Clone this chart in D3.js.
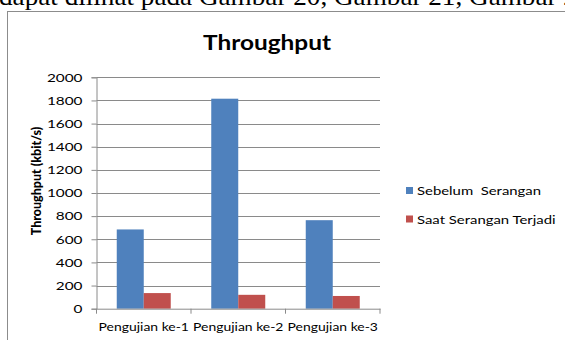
<!DOCTYPE html>
<html lang="en"><head>
<meta charset="utf-8">
<title>Throughput</title>
<script src="https://cdn.jsdelivr.net/npm/d3@7"></script>
<style>
body { margin: 0; background: #fff; }
svg text { font-family: Lato, "Open Sans", sans-serif; }
</style>
</head>
<body>
<script type="text/javascript">

var categories = ["Pengujian ke-1", "Pengujian ke-2", "Pengujian ke-3"];
var seriesNames = ["Sebelum  Serangan", "Saat Serangan Terjadi"];
var sebelum = [685, 1815, 765];
var saat = [135, 120, 110];
var yTicks = [0, 200, 400, 600, 800, 1000, 1200, 1400, 1600, 1800, 2000];
var colors = ["#4f81bd", "#c0504d"];

var width = 565, height = 340;
var plotLeft = 96.5, plotRight = 380, plotTop = 77.3, plotBottom = 308.7;

var svg = d3.select("body").append("svg")
    .attr("width", width)
    .attr("height", height);

// the picture is a bit wider than tall, so text is widened to fit
function stretch(sel, f) {
    sel.each(function() {
        var w = this.getComputedTextLength();
        d3.select(this).attr("textLength", w * f).attr("lengthAdjust", "spacingAndGlyphs");
    });
}

// piece of the document text above the chart
svg.append("text")
    .attr("x", -1)
    .attr("y", 5)
    .style("font-family", "'Liberation Serif', serif")
    .style("font-size", "26px")
    .attr("fill", "#000")
    .text("dapat dilihat pada Gambar 20, Gambar 21, Gambar 22")
    .call(stretch, 1.045);

// chart frame
svg.append("rect")
    .attr("x", 7.5).attr("y", 11.5)
    .attr("width", 600).attr("height", 400)
    .attr("fill", "none")
    .attr("stroke", "#8c8c8c");

var x = d3.scaleBand().domain(categories).range([plotLeft, plotRight]);
var inner = d3.scaleBand().domain([0, 1]).range([0, x.bandwidth()])
    .paddingOuter(0.75).paddingInner(0);
var y = d3.scaleLinear().domain([0, 2000]).range([plotBottom, plotTop]);

// gridlines
svg.append("g").selectAll("line")
    .data(yTicks.slice(1))
    .enter().append("line")
    .attr("x1", plotLeft).attr("x2", plotRight)
    .attr("y1", d => Math.round(y(d)) + 0.5).attr("y2", d => Math.round(y(d)) + 0.5)
    .attr("stroke", "#8a8a8a");

// y axis
var yAxis = svg.append("g")
    .attr("transform", "translate(" + plotLeft + ",0)")
    .call(d3.axisLeft(y).tickValues(yTicks).tickFormat(d3.format("d")).tickSize(5).tickPadding(9));
yAxis.select(".domain").attr("stroke", "#8a8a8a");
yAxis.selectAll(".tick line").attr("stroke", "#8a8a8a");
yAxis.selectAll(".tick text")
    .style("font-size", "12px")
    .attr("fill", "#000")
    .call(stretch, 1.28);

// bars
var groups = svg.append("g").selectAll("g")
    .data(categories)
    .enter().append("g")
    .attr("transform", d => "translate(" + x(d) + ",0)");

groups.selectAll("rect")
    .data((d, i) => [sebelum[i], saat[i]])
    .enter().append("rect")
    .attr("x", (d, j) => inner(j))
    .attr("width", inner.bandwidth())
    .attr("y", d => y(d))
    .attr("height", d => y(0) - y(d))
    .attr("fill", (d, j) => colors[j]);

// x axis
var xAxis = svg.append("g")
    .attr("transform", "translate(0," + plotBottom + ")")
    .call(d3.axisBottom(x).tickSize(0).tickPadding(14));
xAxis.select(".domain").attr("stroke", "#8a8a8a");
xAxis.selectAll(".tick text")
    .style("font-size", "12px")
    .attr("fill", "#000")
    .call(stretch, 1.16);

svg.append("g").selectAll("line")
    .data(d3.range(categories.length + 1))
    .enter().append("line")
    .attr("x1", i => plotLeft + i * x.bandwidth()).attr("x2", i => plotLeft + i * x.bandwidth())
    .attr("y1", plotBottom).attr("y2", plotBottom + 5)
    .attr("stroke", "#8a8a8a");

// title
svg.append("text")
    .attr("x", 267).attr("y", 50)
    .attr("text-anchor", "middle")
    .style("font-size", "20px")
    .style("font-weight", "bold")
    .text("Throughput")
    .call(stretch, 1.22);

// y axis title
svg.append("text")
    .attr("transform", "translate(40.5,181) rotate(-90)")
    .attr("text-anchor", "middle")
    .style("font-size", "12.5px")
    .style("font-weight", "900")
    .text("Throughput (kbit/s)");

// legend
var legend = svg.append("g").selectAll("g")
    .data(seriesNames)
    .enter().append("g")
    .attr("transform", (d, i) => "translate(406," + (187 + i * 28.5) + ")");
legend.append("rect")
    .attr("width", 7).attr("height", 7)
    .attr("fill", (d, i) => colors[i]);
legend.append("text")
    .attr("x", 11).attr("y", 8)
    .style("font-size", "12px")
    .style("white-space", "pre")
    .text(d => d)
    .call(stretch, 1.24);

</script>
</body></html>
